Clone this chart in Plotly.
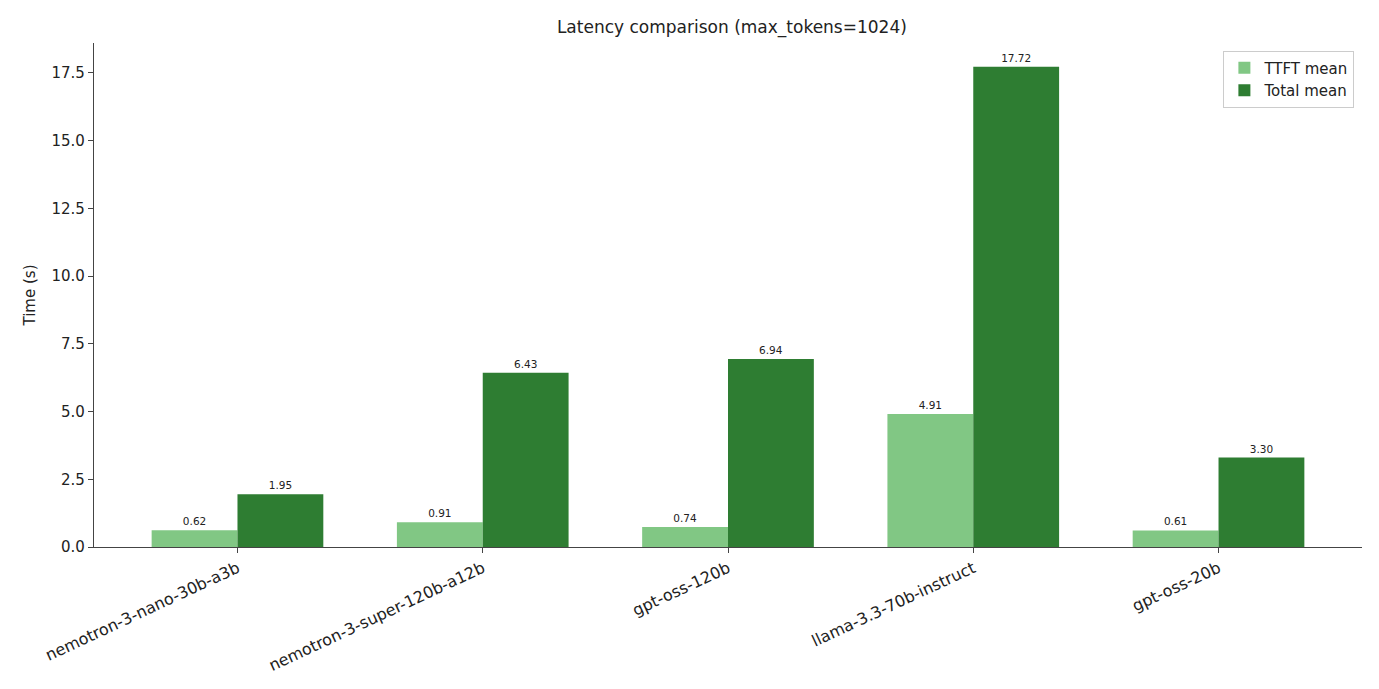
import plotly.graph_objects as go

models = ["nemotron-3-nano-30b-a3b", "nemotron-3-super-120b-a12b", "gpt-oss-120b",
          "llama-3.3-70b-instruct", "gpt-oss-20b"]
ttft_mean = [0.62, 0.91, 0.74, 4.91, 0.61]
total_mean = [1.95, 6.43, 6.94, 17.72, 3.30]
y_ticks = [0.0, 2.5, 5.0, 7.5, 10.0, 12.5, 15.0, 17.5]

xs = list(range(len(models)))
font = "DejaVu Sans"

fig = go.Figure()
fig.add_trace(go.Bar(
    x=xs, y=ttft_mean, name="TTFT mean", marker=dict(color="#81c784", line=dict(width=0)),
    text=[f"{v:.2f}" for v in ttft_mean], textposition="outside",
    textfont=dict(size=10.5, color="#222"), cliponaxis=False, constraintext="none",
))
fig.add_trace(go.Bar(
    x=xs, y=total_mean, name="Total mean", marker=dict(color="#2e7d32", line=dict(width=0)),
    text=[f"{v:.2f}" for v in total_mean], textposition="outside",
    textfont=dict(size=10.5, color="#222"), cliponaxis=False, constraintext="none",
))

fig.update_layout(
    width=1371, height=681,
    margin=dict(l=86, r=17, t=35, b=142, autoexpand=False),
    paper_bgcolor="white", plot_bgcolor="white",
    barmode="group", bargap=0.3, bargroupgap=0,
    font=dict(family=font, size=15, color="#222"),
    title=dict(text="Latency comparison (max_tokens=1024)", x=0.528, xanchor="center",
               y=0.972, yanchor="middle", font=dict(size=17, color="#222")),
    legend=dict(x=0.994, xanchor="right", y=0.985, yanchor="top",
                bordercolor="#cccccc", borderwidth=1, bgcolor="rgba(255,255,255,0.8)",
                font=dict(size=15), traceorder="normal"),
    uniformtext=dict(mode=False),
)
fig.update_xaxes(
    range=[-0.585, 4.585], tickmode="array", tickvals=xs, ticktext=models,
    tickangle=-25, showline=True, linecolor="#444", linewidth=1.2, ticks="outside",
    ticklen=5, tickcolor="#444", showgrid=False, zeroline=False, tickfont=dict(size=16),
    automargin=False,
)
fig.update_yaxes(
    range=[0, 18.6], tickmode="array", tickvals=y_ticks,
    ticktext=[f"{v:.1f}" for v in y_ticks],
    showline=True, linecolor="#444", linewidth=1.2, ticks="outside",
    ticklen=5, tickcolor="#444", showgrid=False, zeroline=False, tickfont=dict(size=15),
    title=dict(text="Time (s)", font=dict(size=15), standoff=12), automargin=False,
)
fig.write_html("out.html")
